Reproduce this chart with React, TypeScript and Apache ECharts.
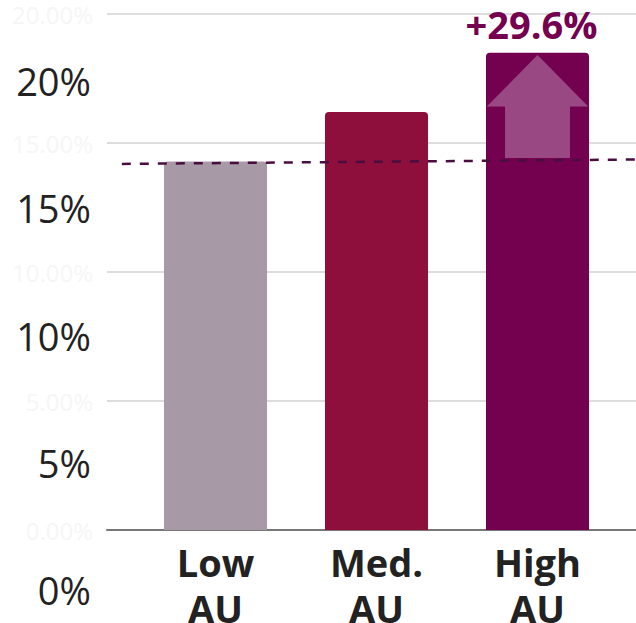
import React, { useEffect, useRef } from "react";
import * as echarts from "echarts";

const categories = ["Low\nAU", "Med.\nAU", "High\nAU"];
const values = [14.28, 16.2, 18.5];
const barColors = ["#a899a7", "#8e0e3c", "#740050"];
const changeLabels = ["", "", "+29.6%"];
const referenceLine = [
  [0.028, 14.19],
  [1, 14.36],
];
const arrowRange = [[2, 14.42, 18.41]];
const faintTicks = [0, 5, 10, 15, 20];

const FONT = "'Open Sans', sans-serif";

export default function App() {
  const ref = useRef<HTMLDivElement>(null);
  useEffect(() => {
    if (!ref.current) return;
    const chart = echarts.init(ref.current, null, { renderer: "svg" });
    const option: any = {
      animation: false,
      backgroundColor: "#ffffff",
      grid: [
        { left: 107, right: 0, top: 14, bottom: 93, outerBoundsMode: "none", containLabel: false },
        { left: 135, right: 18, top: 14, bottom: 93, outerBoundsMode: "none", containLabel: false },
        { left: 100, width: 10, top: 81, bottom: 33, outerBoundsMode: "none", containLabel: false },
      ],
      xAxis: [
        {
          gridIndex: 0,
          type: "value",
          min: 0,
          max: 1,
          axisLine: { show: true, lineStyle: { color: "#777777", width: 2 } },
          axisTick: { show: false },
          axisLabel: { show: false },
          splitLine: { show: false },
        },
        {
          gridIndex: 1,
          type: "category",
          data: categories,
          axisLine: { show: false },
          axisTick: { show: false },
          axisLabel: {
            color: "#222222",
            fontFamily: FONT,
            fontWeight: "bold",
            fontSize: 38,
            lineHeight: 46,
            margin: 9,
          },
        },
        {
          gridIndex: 2,
          type: "value",
          show: false,
        },
      ],
      yAxis: [
        {
          gridIndex: 0,
          type: "value",
          min: faintTicks[0],
          max: faintTicks[faintTicks.length - 1],
          interval: 5,
          axisLine: { show: false },
          axisTick: { show: false },
          axisLabel: {
            color: "#f6f6f6",
            fontFamily: FONT,
            fontSize: 24,
            margin: 14,
            formatter: (v: number) => v.toFixed(2) + "%",
          },
          splitLine: { lineStyle: { color: "#dddddd", width: 2 } },
        },
        {
          gridIndex: 1,
          type: "value",
          min: 0,
          max: 20,
          show: false,
        },
        {
          gridIndex: 2,
          type: "value",
          min: 0,
          max: 20,
          interval: 5,
          axisLine: { show: false },
          axisTick: { show: false },
          splitLine: { show: false },
          axisLabel: {
            color: "#222222",
            fontFamily: FONT,
            fontSize: 38,
            margin: 9,
            formatter: "{value}%",
          },
        },
      ],
      series: [
        {
          type: "bar",
          xAxisIndex: 1,
          yAxisIndex: 1,
          barWidth: "64%",
          data: values.map((v, i) => ({
            value: v,
            itemStyle: { color: barColors[i], borderRadius: [4, 4, 0, 0] },
            label: {
              show: changeLabels[i] !== "",
              position: "top",
              distance: 10,
              offset: [-6, 0],
              formatter: changeLabels[i],
              color: "#75004f",
              fontFamily: FONT,
              fontWeight: "bold",
              fontSize: 38,
            },
          })),
        },
        {
          type: "custom",
          xAxisIndex: 1,
          yAxisIndex: 1,
          data: arrowRange,
          z: 5,
          renderItem: (params: any, api: any) => {
            const x = api.value(0);
            const base = api.coord([x, api.value(1)]);
            const tip = api.coord([x, api.value(2)]);
            const band = api.size([1, 0])[0];
            const headW = band * 0.63;
            const shaftW = headW * 0.64;
            const len = base[1] - tip[1];
            const headH = len * 0.5;
            const cx = base[0];
            const pts = [
              [cx, tip[1]],
              [cx + headW / 2, tip[1] + headH],
              [cx + shaftW / 2, tip[1] + headH],
              [cx + shaftW / 2, base[1]],
              [cx - shaftW / 2, base[1]],
              [cx - shaftW / 2, tip[1] + headH],
              [cx - headW / 2, tip[1] + headH],
            ];
            return {
              type: "polygon",
              shape: { points: pts },
              style: { fill: "#9a4883" },
            };
          },
        },
        {
          type: "line",
          xAxisIndex: 0,
          yAxisIndex: 0,
          data: referenceLine,
          symbol: "none",
          z: 10,
          lineStyle: { color: "#4a0d3f", width: 2.5, type: [9, 9] },
        },
      ],
    };
    chart.setOption(option);
    return () => chart.dispose();
  }, []);
  return (
    <div
      ref={ref}
      style={{ position: "fixed", left: 0, top: 0, width: 636, height: 623 }}
    />
  );
}
